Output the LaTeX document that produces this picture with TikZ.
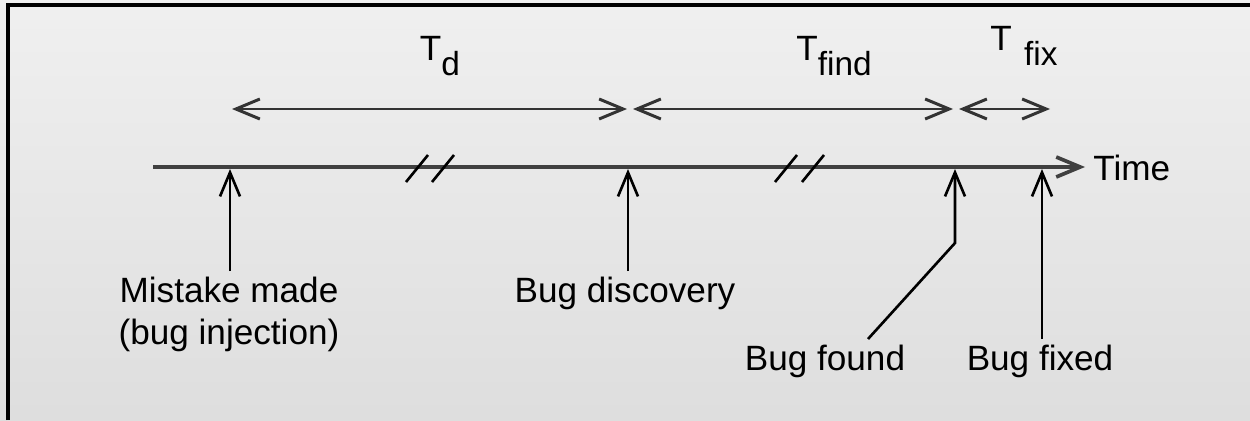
\documentclass[tikz,border=0pt]{standalone}
\usepackage{fontspec}
\setmainfont{Liberation Sans}
\usetikzlibrary{arrows.meta,calc,positioning}

\newcommand{\lowsub}[1]{\raisebox{-0.8ex}{\fontsize{19}{22}\selectfont #1}}

\begin{document}
\begin{tikzpicture}[x=0.02cm,y=-0.02cm,
    >={Straight Barb[length=4.8mm,width=4mm]},
    every node/.style={font=\fontsize{20}{24}\selectfont},
    axis/.style={draw=black!75,line width=2.1pt},
    span/.style={<->,draw=black!80,line width=1.7pt},
    pointer/.style={->,draw=black,line width=1.5pt},
    brk/.style={draw=black,line width=1.5pt},
    event/.style={align=center,inner sep=3pt}]
  \useasboundingbox (0,0) rectangle (1250,420);
  \shade[top color=black!6,bottom color=black!13] (0,0) rectangle (1250,420);
  \draw[line width=1.8pt] (8,420) -- (8,5) -- (1250,5);

  % time line
  \coordinate (t0) at (153,167);
  \node[anchor=west,inner sep=0pt] (time) at (1093,168) {Time};
  \draw[axis,->] (t0) -- (1085,167);
  \foreach \x in {406,432,775,802}
    \draw[brk] (\x,182) -- ++(22,-27);

  % events on the line
  \coordinate (e1) at (230,169);
  \coordinate (e2) at (628,169);
  \coordinate (e3) at (955,169);
  \coordinate (e4) at (1042,169);
  \coordinate (kink) at (955,243);

  \node[event,anchor=north] (mistake) at (229,271) {Mistake made\\(bug injection)};
  \node[event,anchor=north] (discovery) at (625,271) {Bug discovery};
  \node[event,anchor=north] (found) at (825,339) {Bug found};
  \node[event,anchor=north] (fixed) at (1040,339) {Bug fixed};

  \draw[pointer] (mistake.north -| e1) -- (e1);
  \draw[pointer] (discovery.north -| e2) -- (e2);
  \draw[pointer] ($(found.north)+(43,0)$) -- (kink) -- (e3);
  \draw[pointer] (fixed.north -| e4) -- (e4);

  % intervals
  \coordinate (s0) at (232,109);
  \coordinate (s1) at (627,109);
  \coordinate (s2) at (633,109);
  \coordinate (s3) at (953,109);
  \coordinate (s4) at (959,109);
  \coordinate (s5) at (1050,109);
  \draw[span] (s0) -- (s1);
  \draw[span] (s2) -- (s3);
  \draw[span] (s4) -- (s5);

  \node (Td) at (440,56) {T\lowsub{d}};
  \node (Tfind) at (834,56) {T\lowsub{find}};
  \node (Tfix) at (1024,46) {T\hspace{0.35em}\lowsub{fix}};
\end{tikzpicture}
\end{document}
